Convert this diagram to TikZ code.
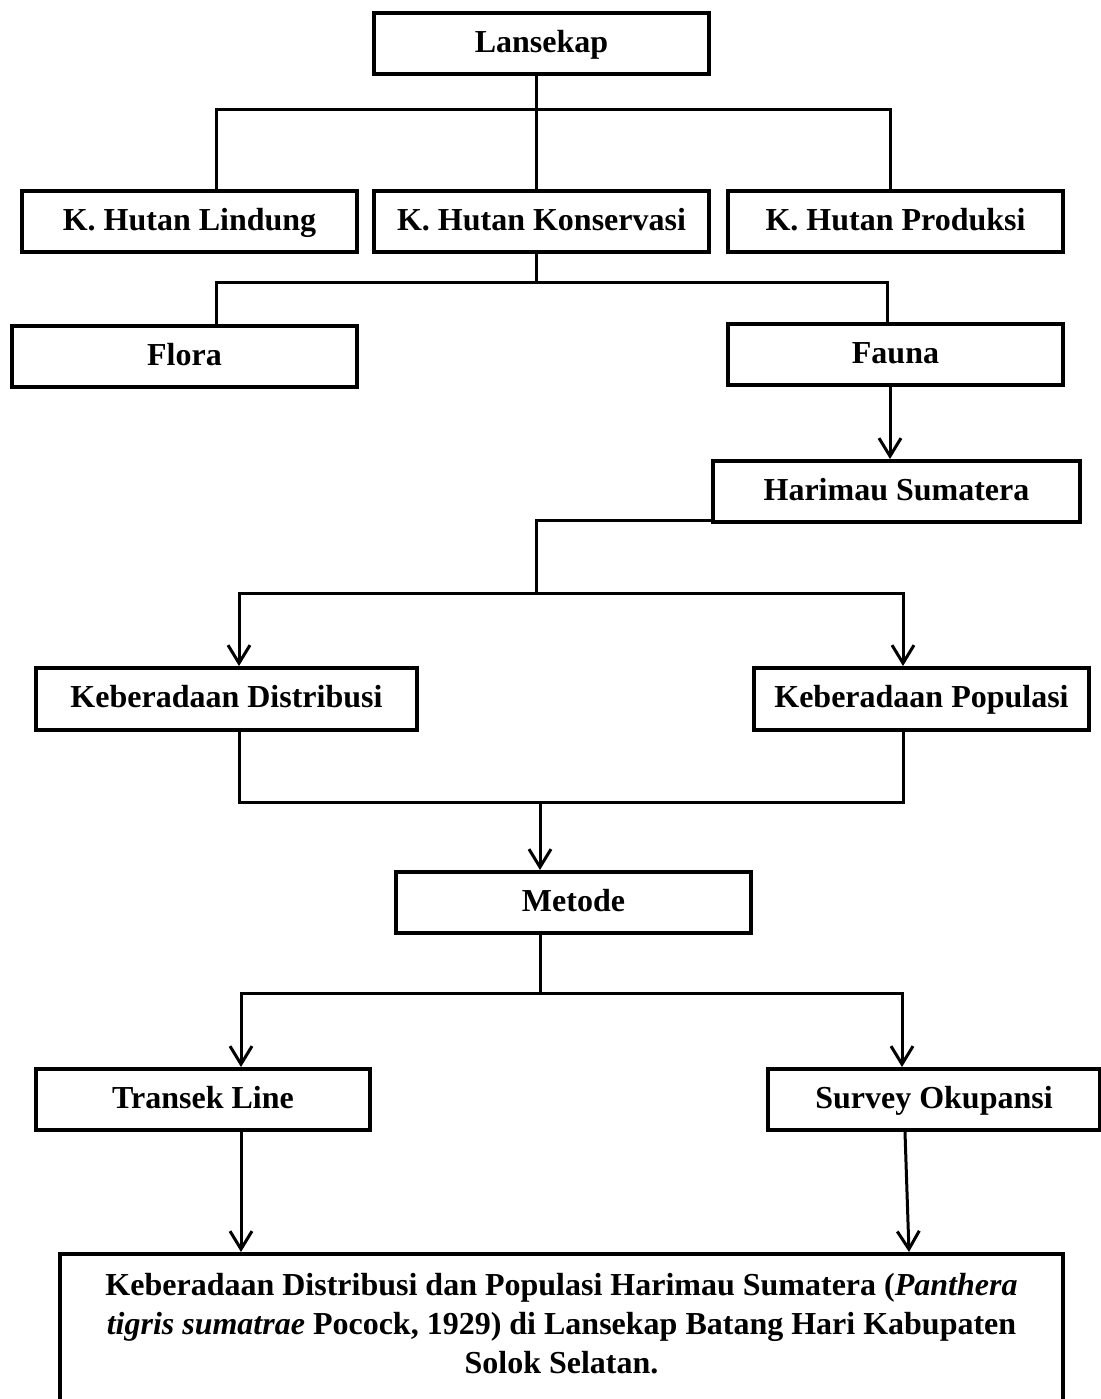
\documentclass[tikz,border=0pt]{standalone}
\usepackage{fontspec}
\setmainfont{Liberation Serif}
\usetikzlibrary{arrows.meta}
\tikzset{
  box/.style={draw,line width=2pt,inner sep=0pt,minimum height=30.5pt,
              text height=11pt,text depth=2.5pt,
              font=\bfseries\fontsize{16}{19.5}\selectfont},
  link/.style={line width=1.5pt},
  linkarr/.style={link,-{Straight Barb[length=9pt,width=11pt]}}
}

\begin{document}
\begin{tikzpicture}[x=0.5pt,y=-0.5pt]
\useasboundingbox (0,0) rectangle (1100,1399);
\path
      (541.5,  43.5) node [box,minimum width=167.5pt] (lansekap)   {Lansekap}
      (189.5, 221.5) node [box,minimum width=167.5pt] (lindung)    {K. Hutan Lindung}
      (541.5, 221.5) node [box,minimum width=167.5pt] (konservasi) {K. Hutan Konservasi}
      (895.5, 221.5) node [box,minimum width=167.5pt] (produksi)   {K. Hutan Produksi}
      (184.5, 356.5) node [box,minimum width=172.5pt] (flora)      {Flora}
      (895.5, 354.5) node [box,minimum width=167.5pt] (fauna)      {Fauna}
      (896.5, 491.5) node [box,minimum width=183.5pt] (harimau)    {Harimau Sumatera}
      (226.5, 699  ) node [box,minimum width=190.5pt,minimum height=31pt] (distribusi) {Keberadaan Distribusi}
      (921.5, 699  ) node [box,minimum width=167.5pt,minimum height=31pt] (populasi)   {Keberadaan Populasi}
      (573.5, 902.5) node [box,minimum width=177.5pt] (metode)     {Metode}
      (203  ,1099.5) node [box,minimum width=167pt]   (transek)    {Transek Line}
      (934  ,1099.5) node [box,minimum width=166pt]   (survey)     {Survey Okupansi}
      (561.5,1252  ) node [box,anchor=north,minimum width=501.5pt,align=center,
                           inner ysep=9.5pt,text height=,text depth=] (judul)
        {Keberadaan Distribusi dan Populasi Harimau Sumatera (\textit{Panthera}\\
         \textit{tigris sumatrae} Pocock, 1929) di Lansekap Batang Hari Kabupaten\\
         Solok Selatan.\rule[-40pt]{0pt}{0pt}};
\coordinate (fork1) at (536, 109);
\coordinate (fork2) at (536, 282);
\coordinate (fork3) at (536, 593);
\coordinate (merge) at (540, 802);
\coordinate (fork4) at (540, 993);
\draw[link]
      (lansekap.south   -| fork1) -- (konservasi.north -| fork1)
      (lindung.north    -| 216,0) |- (fork1) -| (produksi.north -| 890,0)
      (konservasi.south -| fork2) -- (fork2)
      (flora.north      -| 216,0) |- (fork2) -| (fauna.north -| 887,0)
      (harimau.west     |- 0,520) -| (fork3)
      (distribusi.south -| 239,0) |- (merge)
      (populasi.south   -| 903,0) |- (merge)
      (metode.south     -| fork4) -- (fork4);
\draw[linkarr] (fauna.south -| 890,0) -- (harimau.north -| 890,0);
\draw[linkarr] (fork3) -| (distribusi.north -| 239,0);
\draw[linkarr] (fork3) -| (populasi.north -| 903,0);
\draw[linkarr] (merge) -- (metode.north -| merge);
\draw[linkarr] (fork4) -| (transek.north -| 241,0);
\draw[linkarr] (fork4) -| (survey.north -| 902,0);
\draw[linkarr] (transek.south -| 241,0) -- (judul.north -| 241,0);
\draw[linkarr] (survey.south  -| 905,0) -- (judul.north -| 909,0);
\end{tikzpicture}
\end{document}
